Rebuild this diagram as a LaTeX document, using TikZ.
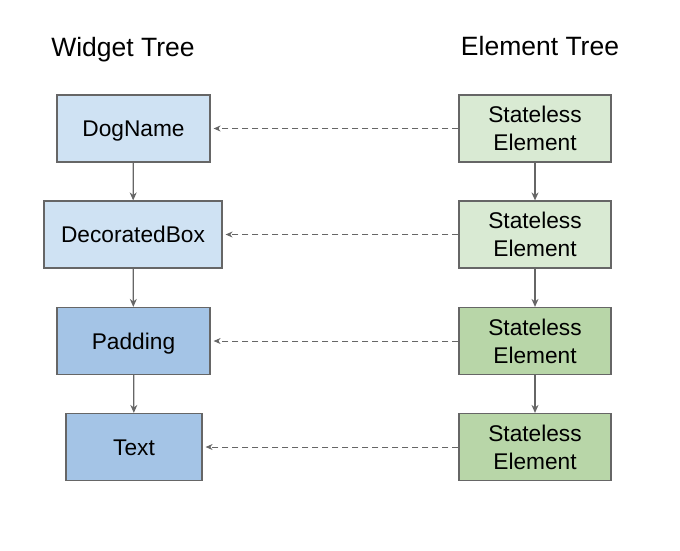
\documentclass[tikz,border=0pt]{standalone}
\usepackage{fontspec}
\setmainfont{Liberation Sans}
\usepackage{xcolor}
\usetikzlibrary{arrows.meta}

\definecolor{boxline}{HTML}{666666}
\definecolor{widgetlight}{HTML}{CFE2F3}
\definecolor{widgetdark}{HTML}{A4C4E6}
\definecolor{elemlight}{HTML}{D9EAD3}
\definecolor{elemdark}{HTML}{B8D6A8}

\tikzset{
	treebox/.style={draw=boxline, line width=1.2pt, minimum height=67pt, inner sep=0pt, text depth=0pt, align=center, font=\fontsize{22.7}{28}\selectfont},
	widgetbox/.style={treebox, text height=16.3pt},
	childarrow/.style={draw=boxline, line width=1.2pt, -{Stealth[length=8pt, width=7pt]}},
	refarrow/.style={draw=boxline, line width=1pt, dash pattern=on 6pt off 4pt, -{Stealth[length=7pt, width=6pt]}}
}

\begin{document}
\begin{tikzpicture}[x=1pt, y=-1pt]
				\useasboundingbox (0, 0) rectangle (680, 550);
				
				%Titles
				\node[font=\fontsize{26.5}{30}\selectfont] (widgettitle) at (123, 50) {Widget Tree};
				\node[font=\fontsize{26.5}{30}\selectfont] (elemtitle) at (540, 46) {Element Tree};
				
				%Widget tree
				\node[widgetbox, fill=widgetlight, minimum width=153pt] (dogname) at (133.5, 128.5) {DogName};
				\node[widgetbox, fill=widgetlight, minimum width=178pt] (decorated) at (133, 234.5) {DecoratedBox};
				\node[widgetbox, fill=widgetdark, minimum width=153pt] (padding) at (133.5, 341) {Padding};
				\node[widgetbox, fill=widgetdark, minimum width=136pt] (text) at (134, 447) {Text};
				
				%Element tree
				\node[treebox, fill=elemlight, minimum width=152pt] (elemone) at (535, 128.5) {Stateless\\Element};
				\node[treebox, fill=elemlight, minimum width=152pt] (elemtwo) at (535, 234.5) {Stateless\\Element};
				\node[treebox, fill=elemdark, minimum width=152pt] (elemthree) at (535, 341) {Stateless\\Element};
				\node[treebox, fill=elemdark, minimum width=152pt] (elemfour) at (535, 447) {Stateless\\Element};
				
				%Children
				\draw[childarrow] (dogname) -- (decorated);
				\draw[childarrow] (decorated) -- (padding);
				\draw[childarrow] (padding) -- (text);
				\draw[childarrow] (elemone) -- (elemtwo);
				\draw[childarrow] (elemtwo) -- (elemthree);
				\draw[childarrow] (elemthree) -- (elemfour);
				
				%Element to widget
				\draw[refarrow] (elemone.west) -- ([xshift=3pt]dogname.east);
				\draw[refarrow] (elemtwo.west) -- ([xshift=3pt]decorated.east);
				\draw[refarrow] (elemthree.west) -- ([xshift=3pt]padding.east);
				\draw[refarrow] (elemfour.west) -- ([xshift=3pt]text.east);
			\end{tikzpicture}
\end{document}
